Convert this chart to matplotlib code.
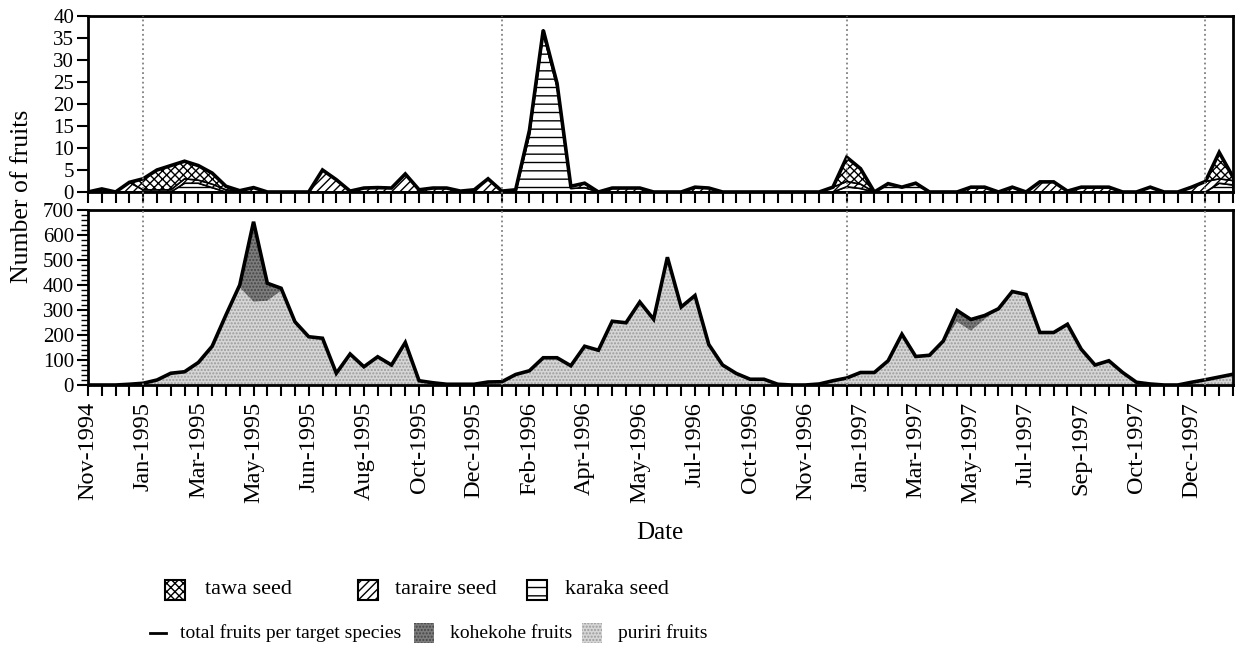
import numpy as np
import matplotlib
matplotlib.use("Agg")
import matplotlib.pyplot as plt
from matplotlib.patches import Rectangle
from matplotlib.lines import Line2D
from matplotlib.ticker import MultipleLocator
import matplotlib.transforms as mtransforms

plt.rcParams['font.family'] = ['Liberation Serif', 'DejaVu Serif']
plt.rcParams['hatch.linewidth'] = 1.0

# Sampling dates shown on the axis (one label every fourth fortnightly sample)
date_labels = ['Nov-1994', 'Jan-1995', 'Mar-1995', 'May-1995', 'Jun-1995',
               'Aug-1995', 'Oct-1995', 'Dec-1995', 'Feb-1996', 'Apr-1996',
               'May-1996', 'Jul-1996', 'Oct-1996', 'Nov-1996', 'Jan-1997',
               'Mar-1997', 'May-1997', 'Jul-1997', 'Sep-1997', 'Oct-1997',
               'Dec-1997']
label_every = 4
# Sample index where each new calendar year starts
year_marks = [4, 30, 55, 81]

# Seeds (upper panel), number per sample
tawa = [0, 0, 0, 0, 2.5, 4.5, 5.5, 4, 3.3, 2.5, 0.8, 0, 0, 0, 0, 0, 0, 0, 0, 0,
        0, 0, 0, 0, 0, 0, 0, 0, 0, 0, 0, 0, 0, 0, 0, 0, 0, 0, 0, 0,
        0, 0, 0, 0, 0, 0, 0, 0, 0, 0, 0, 0, 0, 0, 0, 5.5, 3.5, 0, 0, 0,
        0, 0, 0, 0, 0, 0, 0, 0, 0, 0, 0, 0, 0, 0, 0, 0, 0, 0, 0, 0,
        0, 0, 6, 0.8]
taraire = [0, 0.7, 0, 2.2, 0.5, 0.5, 0.5, 1, 0.7, 0.8, 0.5, 0.3, 1.0, 0, 0, 0, 0, 5, 2.8, 0.2,
           0.9, 1.0, 0.9, 4.1, 0.5, 0.9, 0.9, 0.2, 0.5, 3, 0.2, 0.5, 1, 0.8, 0.7, 0.5, 1, 0, 0.9, 0.9,
           0.9, 0, 0, 0, 1.1, 0.9, 0, 0, 0, 0, 0, 0, 0, 0, 1.1, 1.2, 1, 0, 0, 0,
           0, 0, 0, 0, 1.1, 1.1, 0, 1.1, 0, 2.3, 2.3, 0.2, 1.1, 1.1, 1.1, 0, 0, 0, 0, 0,
           1.1, 2.4, 1, 1]
karaka = [0, 0, 0, 0, 0, 0, 0, 2, 2, 1, 0, 0, 0, 0, 0, 0, 0, 0, 0, 0,
          0, 0, 0, 0, 0, 0, 0, 0, 0, 0, 0, 0, 13, 36, 24, 0.8, 1, 0, 0, 0,
          0, 0, 0, 0, 0, 0, 0, 0, 0, 0, 0, 0, 0, 0, 0, 1.2, 0.8, 0, 1.9, 1.1,
          2, 0, 0, 0, 0, 0, 0, 0, 0, 0, 0, 0, 0, 0, 0, 0, 0, 1.1, 0, 0,
          0, 0, 2, 1.6]

# Fruits (lower panel), number per sample
kohekohe = [0, 0, 0, 0, 0, 0, 0, 0, 0, 0, 0, 10, 320, 70, 10, 0, 0, 0, 0, 0,
            0, 0, 0, 0, 0, 0, 0, 0, 0, 0, 0, 0, 0, 0, 0, 0, 0, 0, 0, 0,
            0, 0, 0, 0, 0, 0, 0, 0, 0, 0, 0, 0, 0, 0, 0, 0, 0, 0, 0, 0,
            0, 0, 5, 45, 45, 15, 0, 0, 0, 0, 0, 0, 0, 0, 0, 0, 0, 0, 0, 0,
            0, 0, 0, 0]
puriri = [0, 0, 0, 3, 7, 20, 47, 53, 90, 155, 280, 390, 333, 337, 377, 253, 193, 187, 47, 124,
          73, 113, 80, 170, 17, 9, 3, 3, 3, 12, 13, 42, 57, 109, 109, 77, 155, 139, 255, 249,
          332, 263, 511, 312, 358, 162, 80, 46, 23, 23, 3, 0, 0, 4, 17, 28, 50, 50, 97, 203,
          114, 119, 171, 253, 217, 263, 305, 374, 362, 210, 210, 243, 143, 80, 97, 50, 11, 4, 0, 0,
          11, 21, 32, 43]

n = len(puriri)
x = np.arange(n)
tawa, taraire, karaka = map(np.asarray, (tawa, taraire, karaka))
kohekohe, puriri = np.asarray(kohekohe), np.asarray(puriri)

W, H = 1240, 655
fig = plt.figure(figsize=(W / 100, H / 100), dpi=100)


def fx(px):
    return px / W


def fy(py):
    return 1 - py / H


left, right = fx(88), fx(1233)
ax1 = fig.add_axes([left, fy(192), right - left, fy(16) - fy(192)])
ax2 = fig.add_axes([left, fy(385), right - left, fy(210) - fy(385)])

# Upper panel: stacked seed counts
s1 = karaka
s2 = s1 + taraire
s3 = s2 + tawa
band = dict(facecolor='white', edgecolor='black', linewidth=1.2)
ax1.fill_between(x, 0, s1, hatch='--', **band)
ax1.fill_between(x, s1, s2, hatch='////', **band)
ax1.fill_between(x, s2, s3, hatch='xxxx', **band)
ax1.plot(x, s3, color='black', lw=2.6, solid_joinstyle='miter')
ax1.set_ylim(0, 40)
ax1.yaxis.set_major_locator(MultipleLocator(5))

# Lower panel: stacked fruit counts
f1 = puriri
f2 = f1 + kohekohe
puriri_style = dict(facecolor='#d6d6d6', edgecolor='#9a9a9a', hatch='.....')
kohekohe_style = dict(facecolor='#7d7d7d', edgecolor='#454545', hatch='.....')
ax2.fill_between(x, 0, f1, linewidth=0, **puriri_style)
ax2.fill_between(x, f1, f2, linewidth=0, **kohekohe_style)
ax2.plot(x, f2, color='black', lw=2.6, solid_joinstyle='miter')
ax2.set_ylim(0, 700)
ax2.yaxis.set_major_locator(MultipleLocator(100))
ax2.yaxis.set_minor_locator(MultipleLocator(20))

label_pos = np.arange(0, n, label_every)[:len(date_labels)]
for ax in (ax1, ax2):
    ax.set_xlim(0, n - 1)
    ax.set_xticks(label_pos)
    ax.set_xticks(x, minor=True)
    for sp in ax.spines.values():
        sp.set_linewidth(2)
    ax.tick_params(axis='x', which='both', direction='out', length=8,
                   width=1.5, color='black')
    ax.tick_params(axis='y', which='major', direction='out', length=8,
                   width=1.5, labelsize=15, pad=2)
    ax.tick_params(axis='y', which='minor', direction='out', length=5,
                   width=1.0)

ax1.set_xticklabels([])
ax2.set_xticklabels(date_labels, rotation=90, fontsize=17.5)
ax2.tick_params(axis='x', which='major', pad=4)

# Dotted year separators across both panels
trans = mtransforms.blended_transform_factory(ax2.transData, fig.transFigure)
for m in year_marks:
    fig.add_artist(Line2D([m, m], [fy(385), fy(16)], transform=trans,
                          color='#808080', ls=':', lw=1.3, zorder=5))

fig.text(fx(22), fy(196), 'Number of fruits', rotation=90, ha='center',
         va='center', fontsize=18.5)
fig.text(fx(660), fy(533), 'Date', ha='center', va='center', fontsize=18)

# Legend
def icon(cx, cy, **kw):
    s = 20
    fig.add_artist(Rectangle((fx(cx - s / 2), fy(cy + s / 2)), s / W, s / H,
                             transform=fig.transFigure, **kw))


row1, row2 = 590, 633
fs1, fs2 = 16, 14
icon(175, row1, facecolor='white', edgecolor='black', hatch='xxxx', lw=1.5)
fig.text(fx(205), fy(row1), 'tawa seed', va='center', fontsize=fs1)
icon(368, row1, facecolor='white', edgecolor='black', hatch='////', lw=1.5)
fig.text(fx(395), fy(row1), 'taraire seed', va='center', fontsize=fs1)
icon(537, row1, facecolor='white', edgecolor='black', hatch='--', lw=1.5)
fig.text(fx(565), fy(row1), 'karaka seed', va='center', fontsize=fs1)

fig.add_artist(Line2D([fx(150), fx(166)], [fy(row2), fy(row2)],
                      transform=fig.transFigure, color='black', lw=2))
fig.text(fx(180), fy(row2), 'total fruits per target species', va='center',
         fontsize=fs2)
icon(424, row2, lw=0, **kohekohe_style)
fig.text(fx(450), fy(row2), 'kohekohe fruits', va='center', fontsize=fs2)
icon(592, row2, lw=0, **puriri_style)
fig.text(fx(618), fy(row2), 'puriri fruits', va='center', fontsize=fs2)

fig.savefig('out.png', dpi=100)
